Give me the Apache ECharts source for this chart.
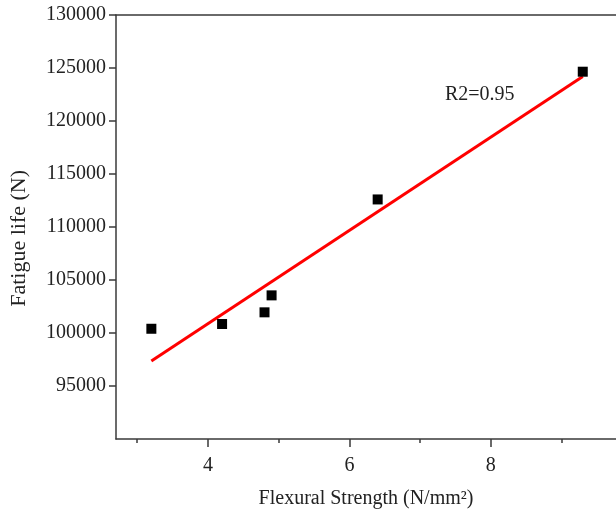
<!DOCTYPE html>
<html>
<head>
<meta charset="utf-8">
<script src="https://cdn.jsdelivr.net/npm/echarts@6/dist/echarts.min.js"></script>
<style>html,body{margin:0;padding:0;background:#fff}#c{width:616px;height:514px}</style>
</head>
<body>
<div id="c"></div>
<script>
const xValues = [3.2, 4.2, 4.8, 4.9, 6.4, 9.3];
const yValues = [100400, 100850, 101950, 103550, 112600, 124650];
const fitX = [3.2, 9.3];
const fitY = [97350, 124200];
const xMajorTicks = [4, 6, 8];
const xMinorTicks = [3, 5, 7, 9];
const yTicks = [95000, 100000, 105000, 110000, 115000, 120000, 125000, 130000];
const xTitle = 'Flexural Strength (N/mm²)';
const yTitle = 'Fatigue life (N)';
const annotation = 'R2=0.95';

const FONT = '"Liberation Serif", "Times New Roman", serif';
const AX = '#3a3a3a';
const TXT = '#222';

const chart = echarts.init(document.getElementById('c'), null, {renderer: 'canvas'});
const xMin = 2.7, xMax = 9.77;
chart.setOption({
  animation: false,
  backgroundColor: '#fff',
  grid: {left: 116, right: 0, top: 15, bottom: 75, containLabel: false},
  xAxis: [
    {
      type: 'value', min: xMin, max: xMax, position: 'bottom',
      axisLine: {show: true, onZero: false, lineStyle: {color: AX, width: 1.5}},
      axisTick: {show: true, customValues: xMajorTicks, length: 8, lineStyle: {color: AX, width: 1.5}},
      axisLabel: {show: true, customValues: xMajorTicks, fontSize: 20, fontFamily: FONT, color: TXT, margin: 17},
      splitLine: {show: false},
      name: xTitle, nameLocation: 'middle', nameGap: 50,
      nameTextStyle: {fontSize: 20, fontFamily: FONT, color: TXT}
    },
    {
      type: 'value', min: xMin, max: xMax, position: 'bottom',
      axisLine: {show: false},
      axisTick: {show: true, customValues: xMinorTicks, length: 4, lineStyle: {color: AX, width: 1.5}},
      axisLabel: {show: false},
      splitLine: {show: false}
    },
    {
      type: 'value', min: xMin, max: xMax, position: 'top',
      axisLine: {show: true, onZero: false, lineStyle: {color: AX, width: 1.5}},
      axisTick: {show: false}, axisLabel: {show: false}, splitLine: {show: false}
    }
  ],
  yAxis: [{
    type: 'value', min: 90000, max: 130000, interval: 5000,
    axisLine: {show: true, onZero: false, lineStyle: {color: AX, width: 1.5}},
    axisTick: {show: true, customValues: yTicks, length: 7, lineStyle: {color: AX, width: 1.5}},
    axisLabel: {show: true, customValues: yTicks, formatter: v => String(v),
      fontSize: 20, fontFamily: FONT, color: TXT, margin: 10},
    splitLine: {show: false}
  }],
  graphic: [
    {type: 'text', left: 8, top: 170, rotation: Math.PI / 2,
     style: {text: yTitle, fontSize: 22, fontFamily: FONT, fill: TXT}},
    {type: 'text', left: 445, top: 85,
     style: {text: annotation, fontSize: 20, fontFamily: FONT, fill: TXT}}
  ],
  series: [
    {
      type: 'line', xAxisIndex: 0, yAxisIndex: 0,
      data: fitX.map((x, i) => [x, fitY[i]]),
      showSymbol: false, symbol: 'none',
      lineStyle: {color: '#ff0000', width: 3}, z: 2
    },
    {
      type: 'scatter', xAxisIndex: 0, yAxisIndex: 0,
      data: xValues.map((x, i) => [x, yValues[i]]),
      symbol: 'rect', symbolSize: 10,
      itemStyle: {color: '#000', opacity: 1}, z: 3
    }
  ]
});
</script>
</body>
</html>
